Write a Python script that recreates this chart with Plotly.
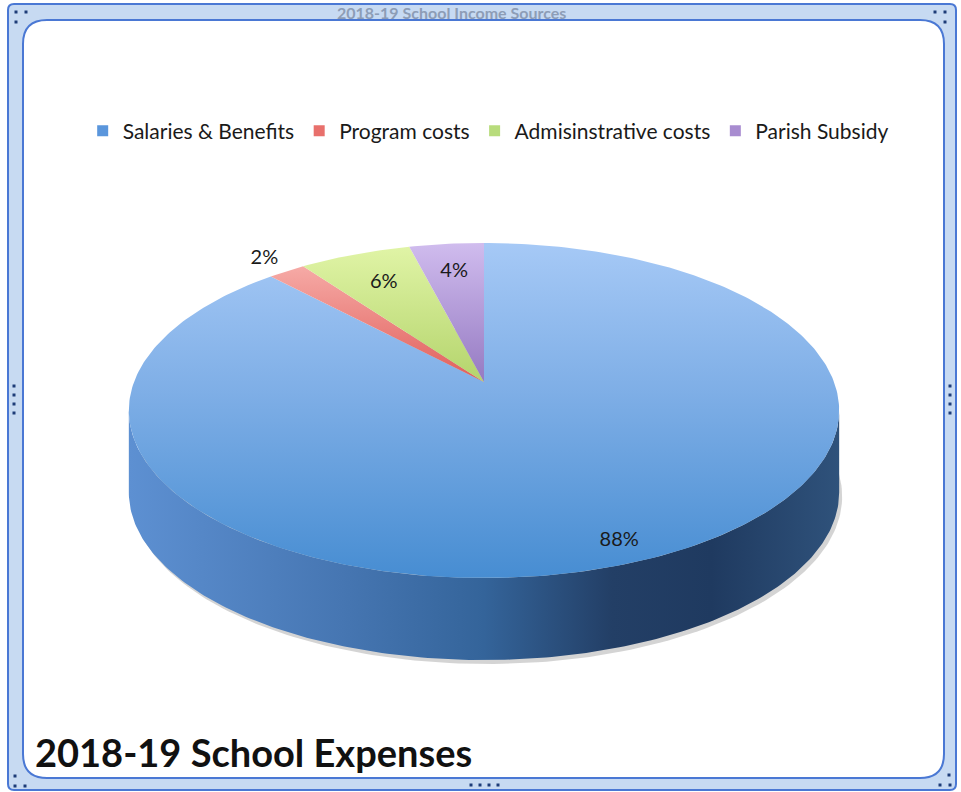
import numpy as np
import plotly.graph_objects as go

# ---------------- data ----------------
categories = ["Salaries & Benefits", "Program costs", "Admisinstrative costs", "Parish Subsidy"]
values = [88, 2, 6, 4]
pct_labels = ["88%", "2%", "6%", "4%"]
chart_title = "2018-19 School Expenses"
ghost_title = "2018-19 School Income Sources"

# ---------------- style ----------------
# colorscales go from the bottom (0) to the top (1) of each slice face
top_scales = [
    [[0, "#478dd2"], [0.55, "#7eaee6"], [1, "#a6c9f6"]],   # blue
    [[0, "#e05e5a"], [1, "#f6aaa6"]],                      # red
    [[0, "#b4d46c"], [1, "#e0f4a6"]],                      # green
    [[0, "#957ac2"], [1, "#d0bcee"]],                      # purple
]
legend_colors = ["#5a96dc", "#e8706c", "#b8dc7c", "#a88cd0"]
wall_scale = [[0, "#5d90d2"], [0.3, "#4676b2"], [0.5, "#34649a"],
              [0.68, "#233f66"], [0.82, "#1f3a60"], [1, "#2f527b"]]
label_radius = [0.9, 1.13, 0.75, 0.77]

W, H = 961, 792
CX, CY = 484, 382          # apex of the pie (pixels)
A, B, K = 350, 162.7, 0.17 # radii and perspective factor
DEPTH = 82
FONT = "Lato, 'Open Sans', sans-serif"


def proj(theta, r=1.0, dy=0.0):
    u = r * np.cos(theta)
    v = r * np.sin(theta)
    s = 1.0 / (1.0 + K * v)
    return CX + A * u * s, CY - B * v * s + dy


fig = go.Figure()

vals = np.array(values, dtype=float)
fr = vals / vals.sum()
cum = np.concatenate([[0], np.cumsum(fr)])
start = np.pi / 2

# shadow under the pie
ph = np.linspace(0, 2 * np.pi, 300)
sx, sy = proj(ph, dy=DEPTH + 4)
fig.add_trace(go.Scatter(x=sx + 3, y=sy, fill="toself", mode="lines",
                         line=dict(width=0), fillcolor="rgba(60,60,60,0.22)",
                         hoverinfo="skip", showlegend=False))

# front wall (belongs to the slice that faces the viewer)
a0 = np.pi + np.arcsin(K)
a1 = 2 * np.pi - np.arcsin(K)
ph = np.linspace(a0, a1, 200)
tx, ty = proj(ph)
bx, by = proj(ph[::-1], dy=DEPTH)
fig.add_trace(go.Scatter(x=np.concatenate([tx, bx]), y=np.concatenate([ty, by]),
                         fill="toself", mode="lines", line=dict(width=0),
                         fillgradient=dict(type="horizontal", colorscale=wall_scale),
                         hoverinfo="skip", showlegend=False))

# top faces of the slices
for i, cat in enumerate(categories):
    t0 = start - 2 * np.pi * cum[i]
    t1 = start - 2 * np.pi * cum[i + 1]
    n = max(int(400 * fr[i]), 8)
    th = np.linspace(t0, t1, n)
    ax, ay = proj(th)
    xs = np.concatenate([[CX], ax, [CX]])
    ys = np.concatenate([[CY], ay, [CY]])
    fig.add_trace(go.Scatter(x=xs, y=ys, fill="toself", mode="lines",
                             line=dict(width=0),
                             fillgradient=dict(type="vertical", colorscale=top_scales[i]),
                             name=cat, hoverinfo="name", showlegend=False))

# percentage labels
lx, ly = [], []
for i in range(len(values)):
    mid = start - 2 * np.pi * (cum[i] + cum[i + 1]) / 2
    x, y = proj(mid, r=label_radius[i])
    lx.append(x)
    ly.append(y)
fig.add_trace(go.Scatter(x=lx, y=ly, mode="text", text=pct_labels,
                         textfont=dict(family=FONT, size=20, color="#1a1a1a"),
                         cliponaxis=False, hoverinfo="skip", showlegend=False))

# legend entries
for cat, col in zip(categories, legend_colors):
    fig.add_trace(go.Scatter(x=[None], y=[None], mode="markers", name=cat,
                             marker=dict(symbol="square", size=11, color=col)))


def rrect(x0, y0, x1, y1, r):
    return (f"M{x0+r},{y0} L{x1-r},{y0} Q{x1},{y0} {x1},{y0+r} "
            f"L{x1},{y1-r} Q{x1},{y1} {x1-r},{y1} L{x0+r},{y1} "
            f"Q{x0},{y1} {x0},{y1-r} L{x0},{y0+r} Q{x0},{y0} {x0+r},{y0} Z")


shapes = [
    dict(type="path", path=rrect(8, 4, 956, 790, 6), xref="x", yref="y",
         fillcolor="#c7daf2", line=dict(color="#4a78d4", width=2), layer="below"),
    dict(type="path", path=rrect(23, 20, 944, 778, 24), xref="x", yref="y",
         fillcolor="#ffffff", line=dict(color="#4a78d4", width=2), layer="below"),
]

# selection handles of the chart frame
handles = [(16, 12), (26, 12), (16, 22), (945, 12), (935, 12), (945, 22),
           (15, 776), (15, 786), (25, 786), (949, 775), (940, 785), (950, 785)]
handles += [(14, yy) for yy in (386, 395, 404, 413)]
handles += [(950, yy) for yy in (386, 395, 404, 413)]
handles += [(xx, 785) for xx in (471, 480, 489, 498)]
for hx, hy in handles:
    shapes.append(dict(type="rect", x0=hx - 1.5, x1=hx + 1.5, y0=hy - 1.5, y1=hy + 1.5,
                       xref="x", yref="y", fillcolor="#1d3c78",
                       line=dict(width=0), layer="above"))

fig.update_layout(
    width=W, height=H,
    margin=dict(l=0, r=0, t=0, b=0),
    paper_bgcolor="white", plot_bgcolor="rgba(0,0,0,0)",
    xaxis=dict(range=[0, W], visible=False, fixedrange=True),
    yaxis=dict(range=[H, 0], visible=False, fixedrange=True),
    shapes=shapes,
    showlegend=True,
    legend=dict(orientation="h", x=0.508, xanchor="center", y=1 - 131 / H,
                yanchor="middle", font=dict(family=FONT, size=21, color="#1a1a1a"),
                bgcolor="rgba(0,0,0,0)", itemclick=False, itemdoubleclick=False),
    annotations=[
        dict(text=f"<b>{chart_title}</b>", x=33, y=752, xref="x", yref="y",
             xanchor="left", yanchor="middle", showarrow=False,
             font=dict(family=FONT, size=38, color="#111111")),
        dict(text=f"<b>{ghost_title}</b>", x=451, y=12, xref="x", yref="y",
             xanchor="center", yanchor="middle", showarrow=False,
             font=dict(family=FONT, size=16, color="#8d9db6")),
    ],
)

fig.write_html("out.html", config={"displayModeBar": False},
               post_script="document.body.style.margin='0';")
